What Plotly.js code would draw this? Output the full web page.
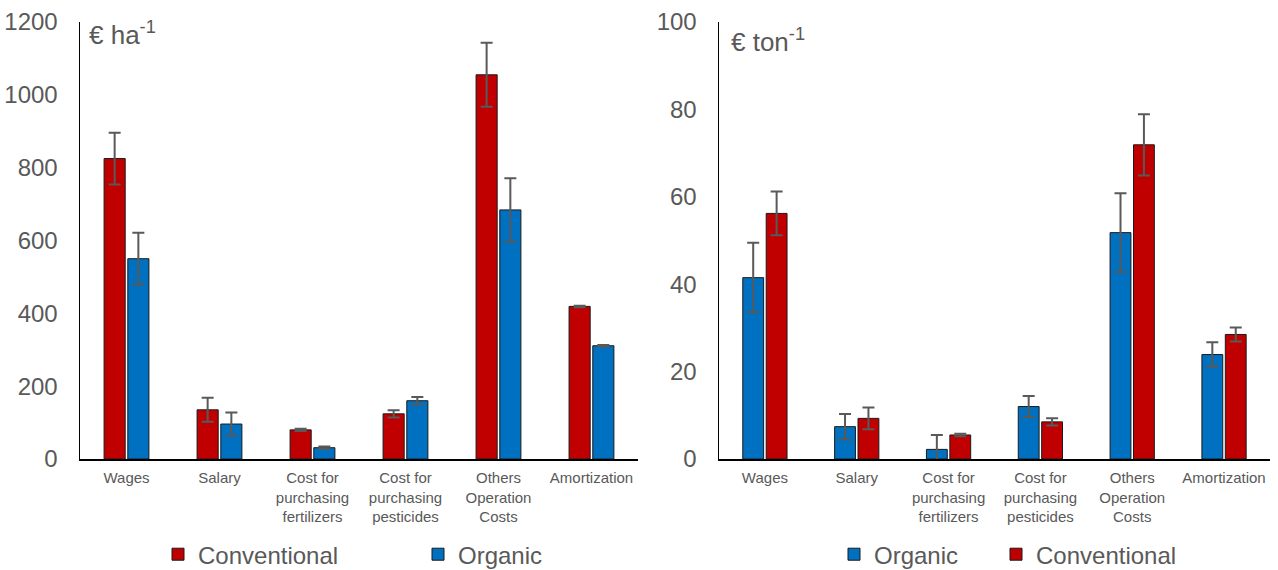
<!DOCTYPE html>
<html>
<head>
<meta charset="utf-8">
<script src="https://cdn.plot.ly/plotly-3.0.1.min.js"></script>
<style>html,body{margin:0;padding:0;background:#fff;}#chart{width:1278px;height:570px;}</style>
</head>
<body>
<div id="chart"></div>
<script>
// Categories
const categories = ["Wages", "Salary", "Cost for<br>purchasing<br>fertilizers", "Cost for<br>purchasing<br>pesticides", "Others<br>Operation<br>Costs", "Amortization"];

// Left panel: € ha-1
const haConventional = [825, 135, 80, 124, 1055, 419];
const haConventionalErr = [71, 33, 3, 10, 88, 2];
const haOrganic = [550, 96, 31, 160, 684, 311];
const haOrganicErr = [71, 32, 3, 10, 87, 2];

// Right panel: € ton-1
const tonOrganic = [41.5, 7.4, 2.2, 12.0, 51.8, 23.9];
const tonOrganicErr = [8, 2.9, 3.3, 2.4, 9, 2.8];
const tonConventional = [56.2, 9.3, 5.5, 8.5, 71.9, 28.5];
const tonConventionalErr = [5, 2.5, 0.3, 0.85, 7, 1.6];

const RED = "#C00000", BLUE = "#0070C0", GREY = "#595959";
const FONT = "Liberation Sans, Arial, sans-serif";

function bar(name, y, err, color, xa, ya, legend) {
  return {
    type: "bar", name: name, x: categories, y: y,
    xaxis: xa, yaxis: ya, legend: legend,
    marker: {color: color, line: {color: "#1a1a1a", width: 1}},
    error_y: {type: "data", array: err, visible: true, color: GREY, thickness: 2, width: 6},
    hoverinfo: "skip"
  };
}

const data = [
  bar("Conventional", haConventional, haConventionalErr, RED, "x", "y", "legend"),
  bar("Organic", haOrganic, haOrganicErr, BLUE, "x", "y", "legend2"),
  bar("Organic", tonOrganic, tonOrganicErr, BLUE, "x2", "y2", "legend3"),
  bar("Conventional", tonConventional, tonConventionalErr, RED, "x2", "y2", "legend4")
];

const xCommon = {
  showline: true, linecolor: "#000", linewidth: 2, ticks: "", showgrid: false,
  tickfont: {family: FONT, size: 15, color: GREY}, tickangle: 0, ticklabelstandoff: 4, fixedrange: true
};
const yCommon = {
  showline: true, linecolor: "#000", linewidth: 1.5, ticks: "", showgrid: false, zeroline: false,
  tickfont: {family: FONT, size: 24, color: GREY}, ticklabelstandoff: 16, fixedrange: true
};

function leg(px) {
  return {
    orientation: "h", font: {family: FONT, size: 24, color: GREY},
    yref: "container", y: 0.027, yanchor: "middle", xanchor: "left",
    x: px / 1278, itemwidth: 30, bgcolor: "rgba(0,0,0,0)"
  };
}

const layout = {
  width: 1278, height: 570,
  margin: {l: 0, r: 0, t: 22, b: 111},
  paper_bgcolor: "#fff", plot_bgcolor: "#fff",
  barmode: "group", bargap: 0.49, bargroupgap: 0.11,
  font: {family: FONT, color: GREY},
  xaxis: Object.assign({}, xCommon, {domain: [0.0626, 0.4992], anchor: "y"}),
  yaxis: Object.assign({}, yCommon, {range: [0, 1200], dtick: 200, anchor: "x"}),
  xaxis2: Object.assign({}, xCommon, {domain: [0.5626, 0.9937], anchor: "y2"}),
  yaxis2: Object.assign({}, yCommon, {range: [0, 100], dtick: 20, anchor: "x2"}),
  legend: leg(158),
  legend2: leg(418),
  legend3: leg(834),
  legend4: leg(996),
  annotations: [
    {text: "€ ha<sup>-1</sup>", xref: "x domain", yref: "y domain", x: 0.012, y: 1.015,
     xanchor: "left", yanchor: "top", showarrow: false, font: {family: FONT, size: 26, color: GREY}},
    {text: "€ ton<sup>-1</sup>", xref: "x2 domain", yref: "y2 domain", x: 0.018, y: 1.0,
     xanchor: "left", yanchor: "top", showarrow: false, font: {family: FONT, size: 26, color: GREY}}
  ],
  showlegend: true
};

Plotly.newPlot("chart", data, layout, {displayModeBar: false, staticPlot: true});
</script>
</body>
</html>
